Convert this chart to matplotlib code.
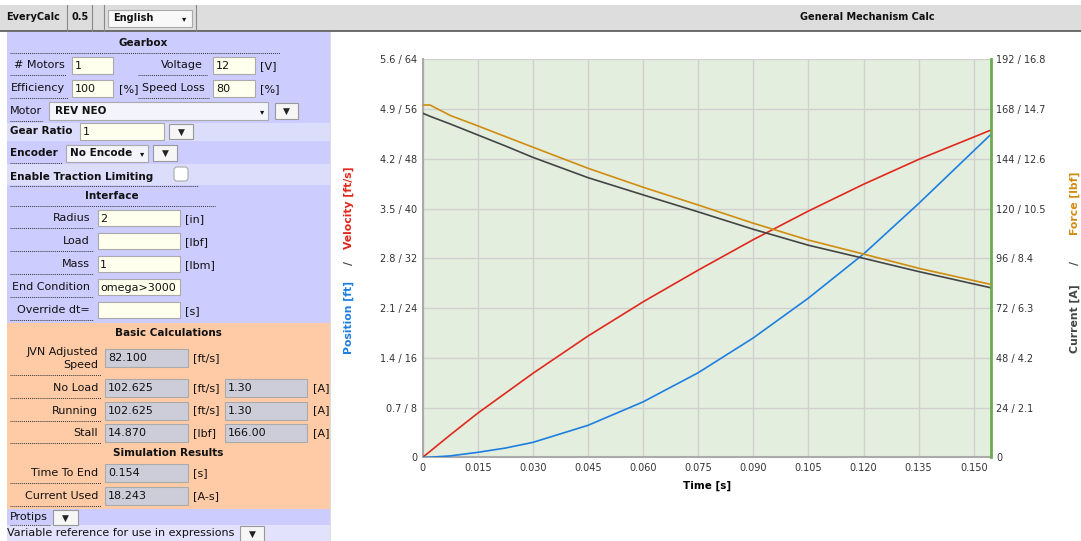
import matplotlib.pyplot as plt
from matplotlib.patches import Rectangle, FancyBboxPatch

# simulation output
time = [0, 0.002, 0.0075, 0.015, 0.0225, 0.030, 0.045, 0.060, 0.075, 0.090, 0.105, 0.120, 0.135, 0.1546]
velocity = [0, 0.95, 3.6, 7.1, 10.3, 13.5, 19.5, 25.0, 30.1, 35.0, 39.6, 43.9, 47.9, 52.6]
position = [0, 0.001, 0.02, 0.07, 0.13, 0.21, 0.45, 0.78, 1.19, 1.68, 2.24, 2.86, 3.57, 4.54]
force = [14.87, 14.87, 14.43, 13.99, 13.54, 13.09, 12.20, 11.40, 10.65, 9.88, 9.17, 8.58, 7.98, 7.30]
current = [166.0, 164.5, 160.8, 155.5, 150.2, 144.7, 134.9, 126.6, 118.4, 110.0, 102.3, 96.0, 89.6, 81.8]

time_ticks = [0, 0.015, 0.030, 0.045, 0.060, 0.075, 0.090, 0.105, 0.120, 0.135, 0.150]
pos_ticks = [0, 0.7, 1.4, 2.1, 2.8, 3.5, 4.2, 4.9, 5.6]
vel_ticks = [0, 8, 16, 24, 32, 40, 48, 56, 64]
cur_ticks = [0, 24, 48, 72, 96, 120, 144, 168, 192]
force_ticks = [0, 2.1, 4.2, 6.3, 8.4, 10.5, 12.6, 14.7, 16.8]

LAV = '#ccccff'
LAV2 = '#dcdcfb'
PEACH = '#ffcba6'
YEL = '#ffffee'
OUTBOX = '#cdcdd9'

fig = plt.figure(figsize=(10.81, 5.41), dpi=100)
ui = fig.add_axes([0, 0, 1, 1])
ui.set_xlim(0, 1081)
ui.set_ylim(541, 0)
ui.axis('off')


def box(x0, y0, x1, y1, fc, ec='none', lw=0.8):
    ui.add_patch(Rectangle((x0, y0), x1 - x0, y1 - y0, fc=fc, ec=ec, lw=lw))


def txt(x, y, s, ha='left', bold=False, size=8, color='#111111'):
    ui.text(x, y, s, ha=ha, va='center', fontsize=size, color=color,
            fontweight='bold' if bold else 'normal')


def dots(x0, x1, y):
    ui.plot([x0, x1], [y, y], ls=(0, (1, 1)), lw=0.7, color='#333333')


def button(x0, y0, x1, y1):
    box(x0, y0, x1, y1, '#f6f6f6', '#999999')
    txt((x0 + x1) / 2, (y0 + y1) / 2 + 0.5, '▼', ha='center', size=6.5, color='#222222')


# header bar
box(0, 5, 1081, 31, '#dddddd')
ui.plot([0, 1081], [31, 31], color='#555555', lw=1.2)
for xv in [67, 92, 104, 196]:
    ui.plot([xv, xv], [5, 31], color='#888888', lw=0.8)
txt(33, 17, 'EveryCalc', ha='center', bold=True, size=7)
txt(80, 17, '0.5', ha='center', bold=True, size=7)
box(108, 10, 192, 27, '#f8f8f8', '#aaaaaa')
txt(113, 18, 'English', bold=True, size=7)
txt(184, 19, '▾', ha='center', size=6)
txt(867, 17, 'General Mechanism Calc', ha='center', bold=True, size=7)

# left panel backgrounds
box(7, 32, 330, 123, LAV)
box(7, 123, 330, 141, LAV2)
box(7, 141, 330, 164, LAV)
box(7, 164, 330, 185, LAV2)
box(7, 185, 330, 323, LAV)
box(7, 323, 330, 509, PEACH)
box(7, 509, 330, 525, LAV)
box(7, 525, 330, 541, '#e2e2fd')
ui.plot([330, 330], [32, 541], color='#dddddd', lw=0.8)

# Gearbox
txt(143, 43, 'Gearbox', ha='center', bold=True, size=7.5)
dots(10, 280, 53)
txt(14, 65, '# Motors')
dots(10, 66, 75)
box(72, 57, 113, 74, YEL, '#aaaaaa')
txt(75, 66, '1')
txt(203, 65, 'Voltage', ha='right')
dots(138, 207, 75)
box(213, 57, 255, 74, YEL, '#aaaaaa')
txt(216, 66, '12')
txt(260, 66, '[V]')
txt(11, 88, 'Efficiency')
dots(10, 68, 98)
box(72, 80, 113, 97, YEL, '#aaaaaa')
txt(75, 89, '100')
txt(119, 89, '[%]')
txt(142, 88, 'Speed Loss')
dots(138, 210, 98)
box(213, 80, 255, 97, YEL, '#aaaaaa')
txt(216, 89, '80')
txt(260, 89, '[%]')
txt(10, 111, 'Motor')
dots(10, 43, 121)
box(49, 102, 268, 120, '#f4f4fc', '#aaaaaa')
txt(55, 111, 'REV NEO', bold=True, size=7.5)
txt(262, 112, '▾', ha='center', size=6)
button(275, 103, 298, 119)
txt(10, 131, 'Gear Ratio', bold=True, size=7.5)
box(80, 123, 164, 140, YEL, '#aaaaaa')
txt(83, 132, '1')
button(169, 124, 193, 139)
txt(10, 153, 'Encoder', bold=True, size=7.5)
dots(10, 62, 163)
box(66, 145, 148, 162, '#f4f4fc', '#aaaaaa')
txt(70, 153, 'No Encode', bold=True, size=7.5)
txt(142, 154, '▾', ha='center', size=6)
button(153, 145, 177, 161)
txt(10, 177, 'Enable Traction Limiting', bold=True, size=7.5)
dots(10, 198, 186)
ui.add_patch(FancyBboxPatch((174, 167), 14, 14, boxstyle='round,pad=0,rounding_size=3',
                            fc='white', ec='#aaaaaa', lw=0.8))

# Interface
txt(112, 196, 'Interface', ha='center', bold=True, size=7.5)
dots(10, 215, 206)
iface_rows = [('Radius', '2', '[in]'), ('Load', '', '[lbf]'), ('Mass', '1', '[lbm]'),
              ('End Condition', 'omega>3000', ''), ('Override dt=', '', '[s]')]
for i, (lab, val, unit) in enumerate(iface_rows):
    y = 218 + i * 23
    txt(90, y, lab, ha='right')
    dots(10, 93, y + 10)
    box(98, y - 8, 180, y + 8, YEL, '#aaaaaa')
    txt(100, y + 1, val)
    txt(185, y + 1, unit)

# Basic calculations
txt(168, 333, 'Basic Calculations', ha='center', bold=True, size=7.5)
txt(98, 352, 'JVN Adjusted', ha='right')
txt(98, 365, 'Speed', ha='right')
dots(10, 101, 375)
box(105, 349, 188, 367, OUTBOX, '#aaaaaa')
txt(108, 358, '82.100')
txt(193, 358, '[ft/s]')
calc_rows = [('No Load', '102.625', '[ft/s]', '1.30'), ('Running', '102.625', '[ft/s]', '1.30'),
             ('Stall', '14.870', '[lbf]', '166.00')]
for i, (lab, v1, unit, v2) in enumerate(calc_rows):
    y = 388 + i * 22.5
    txt(98, y, lab, ha='right')
    dots(10, 101, y + 10)
    box(105, y - 9, 188, y + 9, OUTBOX, '#aaaaaa')
    txt(108, y, v1)
    txt(193, y, unit)
    box(225, y - 9, 307, y + 9, OUTBOX, '#aaaaaa')
    txt(228, y, v2)
    txt(313, y, '[A]')
txt(168, 453, 'Simulation Results', ha='center', bold=True, size=7.5)
sim_rows = [('Time To End', '0.154', '[s]'), ('Current Used', '18.243', '[A-s]')]
for i, (lab, val, unit) in enumerate(sim_rows):
    y = 473 + i * 23
    txt(98, y, lab, ha='right')
    dots(10, 101, y + 10)
    box(105, y - 9, 188, y + 9, OUTBOX, '#aaaaaa')
    txt(108, y, val)
    txt(193, y, unit)
txt(10, 517, 'Protips')
dots(10, 50, 525)
button(53, 510, 78, 525)
txt(7, 533, 'Variable reference for use in expressions')
button(240, 526, 264, 541)

# chart
ax = fig.add_axes([0.3910, 0.1547, 0.5254, 0.7357])
ax.set_zorder(2)
ax.set_facecolor('#e4eedf')
ax.plot(time, velocity, color='#e0281c', lw=1.2, zorder=3)
ax.set_xlim(0, 0.1546)
ax.set_ylim(vel_ticks[0], vel_ticks[-1])
ax.set_xticks(time_ticks)
ax.set_xticklabels(['0'] + [f'{t:.3f}' for t in time_ticks[1:]])
ax.set_yticks(vel_ticks)
ax.set_yticklabels(['0'] + [f'{p:.1f} / {v}' for p, v in zip(pos_ticks[1:], vel_ticks[1:])])
ax.grid(color='#d0d0d0', lw=1)
ax.tick_params(length=0, labelsize=7, labelcolor='#333333', pad=4)
for s in ['top', 'right']:
    ax.spines[s].set_visible(False)
for s in ['left', 'bottom']:
    ax.spines[s].set_color('#aaaaaa')
    ax.spines[s].set_linewidth(1.5)
ax.set_xlabel('Time [s]', fontsize=7.5, fontweight='bold', labelpad=6)

pos_ax = ax.twinx()
pos_ax.plot(time, position, color='#1c7fe0', lw=1.2)
pos_ax.set_ylim(pos_ticks[0], pos_ticks[-1])
pos_ax.axis('off')

cur_ax = ax.twinx()
cur_ax.plot(time, current, color='#444444', lw=1.2)
cur_ax.set_ylim(cur_ticks[0], cur_ticks[-1])
cur_ax.set_yticks(cur_ticks)
cur_ax.set_yticklabels(['0'] + [f'{c} / {f:.1f}' for c, f in zip(cur_ticks[1:], force_ticks[1:])])
cur_ax.tick_params(length=0, labelsize=7, labelcolor='#333333', pad=4)
for s in ['top', 'left', 'bottom']:
    cur_ax.spines[s].set_visible(False)
cur_ax.spines['right'].set_color('#6aaa50')
cur_ax.spines['right'].set_linewidth(2)

force_ax = ax.twinx()
force_ax.plot(time, force, color='#d08c10', lw=1.2)
force_ax.set_ylim(force_ticks[0], force_ticks[-1])
force_ax.axis('off')

# composite axis titles
lbl = dict(rotation=90, ha='center', va='center', fontsize=7.8, fontweight='bold')
txt_y = lambda py: 1 - py / 541
fig.text(349 / 1081, txt_y(318), 'Position [ft]', color='#1c7fe0', **lbl)
fig.text(349 / 1081, txt_y(263), '/', color='#444444', **lbl)
fig.text(349 / 1081, txt_y(208), 'Velocity [ft/s]', color='#e0281c', **lbl)
fig.text(1075 / 1081, txt_y(319), 'Current [A]', color='#444444', **lbl)
fig.text(1075 / 1081, txt_y(263), '/', color='#444444', **lbl)
fig.text(1075 / 1081, txt_y(203), 'Force [lbf]', color='#d08c10', **lbl)

fig.savefig('out.png', dpi=100)
